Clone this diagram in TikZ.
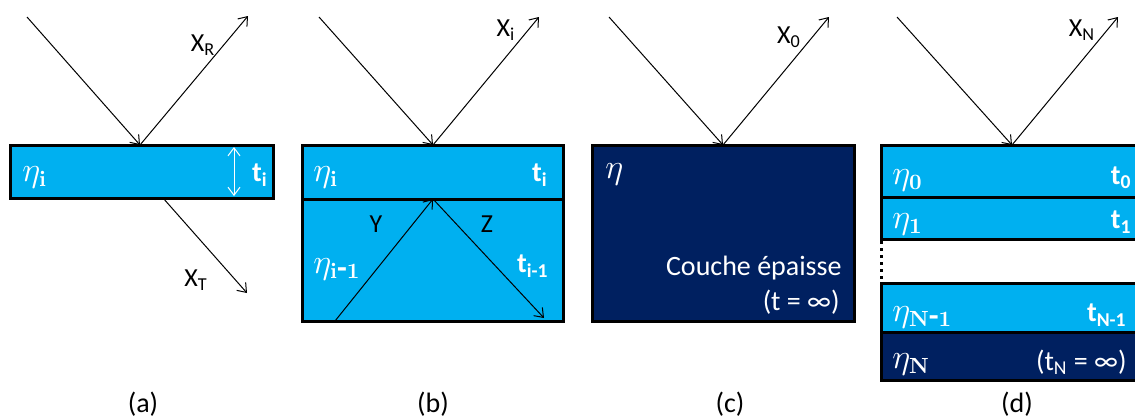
\documentclass[tikz,border=0pt]{standalone}
\usepackage[no-math]{fontspec}
\setmainfont{Carlito}
\usetikzlibrary{arrows.meta}
\definecolor{layerblue}{RGB}{0,176,240}
\definecolor{layernavy}{RGB}{0,32,96}

\begin{document}
\begin{tikzpicture}[
      x=0.5pt, y=-0.5pt,
      layer/.style={draw=black, line width=1.5pt, fill=layerblue},
      bulk/.style={draw=black, line width=1.5pt, fill=layernavy},
      ray/.style={-{Straight Barb[length=4pt, width=6pt]}, line width=0.5pt, black},
      lbl/.style={font=\fontsize{13}{15}\selectfont, inner sep=0pt},
      inlbl/.style={font=\fontsize{14}{16}\selectfont, text=white, inner sep=0pt},
      etalbl/.style={inlbl, font=\fontsize{16}{18}\selectfont, anchor=west},
      panelcap/.style={font=\fontsize{14}{16}\selectfont, inner sep=0pt}
    ]
      \clip (0,0) rectangle (1135,419);

      % (a) single layer
      \draw[layer] (10,145) rectangle (273,198);
      \coordinate (A0) at (27,17);
      \coordinate (A1) at (140,145);
      \coordinate (A2) at (248,16);
      \coordinate (A3) at (163,198);
      \coordinate (A4) at (247,293);
      \draw[ray] (A0) -- (A1);
      \draw[ray] (A1) -- (A2);
      \draw[ray] (A3) -- (A4);
      \draw[ray, white, {Straight Barb[length=4pt, width=6pt]}-{Straight Barb[length=4pt, width=6pt]}] (234,147) -- (234,196);
      \node[lbl] (XR) at (203,45) {X\textsubscript{R}};
      \node[lbl] (XT) at (196,280) {X\textsubscript{T}};
      \node[etalbl] (Ea) at (22,177) {$\eta_{\mathbf{i}}$};
      \node[inlbl, anchor=east] (Ta) at (268,175) {\textbf{t\textsubscript{i}}};
      \node[panelcap] (CA) at (143,404) {(a)};

      % (b) layer on substrate
      \draw[layer] (302,145) rectangle (563,321);
      \draw[line width=1.5pt] (302,199) -- (563,199);
      \coordinate (B0) at (319,17);
      \coordinate (B1) at (433,145);
      \coordinate (B2) at (539,17);
      \coordinate (B3) at (335,321);
      \coordinate (B4) at (433,199);
      \coordinate (B5) at (544,318);
      \draw[ray] (B0) -- (B1);
      \draw[ray] (B1) -- (B2);
      \draw[ray] (B3) -- (B4);
      \draw[ray] (B4) -- (B5);
      \node[lbl] (Xi) at (506,30) {X\textsubscript{i}};
      \node[lbl] (Y) at (376,224) {Y};
      \node[lbl] (Z) at (487,224) {Z};
      \node[etalbl] (Eb) at (313,177) {$\eta_{\mathbf{i}}$};
      \node[inlbl, anchor=east] (Tb) at (548,175) {\textbf{t\textsubscript{i}}};
      \node[etalbl] (Ebb) at (313,269) {$\eta_{\mathbf{i}\textbf{-}\mathbf{1}}$};
      \node[inlbl, anchor=east] (Tbb) at (549,266) {\textbf{t\textsubscript{i-1}}};
      \node[panelcap] (CB) at (433,404) {(b)};

      % (c) thick layer
      \draw[bulk] (592,145) rectangle (854,321);
      \coordinate (C0) at (609,17);
      \coordinate (C1) at (723,145);
      \coordinate (C2) at (829,17);
      \draw[ray] (C0) -- (C1);
      \draw[ray] (C1) -- (C2);
      \node[lbl] (X0) at (789,37) {X\textsubscript{0}};
      \node[etalbl] (Ec) at (605,174) {$\eta$};
      \node[inlbl, anchor=east] (Cc) at (842,268) {Couche épaisse};
      \node[inlbl, anchor=east] (Tc) at (840,302) {(t = ∞)};
      \node[panelcap] (CC) at (730,404) {(c)};

      % (d) multilayer stack
      \draw[layer] (881,145) rectangle (1150,197.5);
      \draw[layer] (881,197.5) rectangle (1150,239);
      \draw[line width=1.5pt, dotted] (881,241) -- (881,283);
      \draw[layer] (881,283) rectangle (1150,332);
      \draw[bulk] (881,332) rectangle (1150,380);
      \coordinate (D0) at (897,17);
      \coordinate (D1) at (1012,145);
      \coordinate (D2) at (1118,17);
      \draw[ray] (D0) -- (D1);
      \draw[ray] (D1) -- (D2);
      \node[lbl] (XN) at (1082,30) {X\textsubscript{N}};
      \node[etalbl] (E0) at (892,180) {$\eta_{\mathbf{0}}$};
      \node[inlbl, anchor=east] (T0) at (1132,178) {\textbf{t\textsubscript{0}}};
      \node[etalbl] (E1) at (892,224) {$\eta_{\mathbf{1}}$};
      \node[inlbl, anchor=east] (T1) at (1132,222) {\textbf{t\textsubscript{1}}};
      \node[etalbl] (En1) at (892,317) {$\eta_{\mathbf{N}\textbf{-}\mathbf{1}}$};
      \node[inlbl, anchor=east] (Tn1) at (1127,315) {\textbf{t\textsubscript{N-1}}};
      \node[etalbl] (En) at (892,364) {$\eta_{\mathbf{N}}$};
      \node[inlbl, anchor=east] (Tn) at (1127,362) {(t\textsubscript{N} = ∞)};
      \node[panelcap] (CD) at (1017,404) {(d)};
    \end{tikzpicture}
\end{document}
